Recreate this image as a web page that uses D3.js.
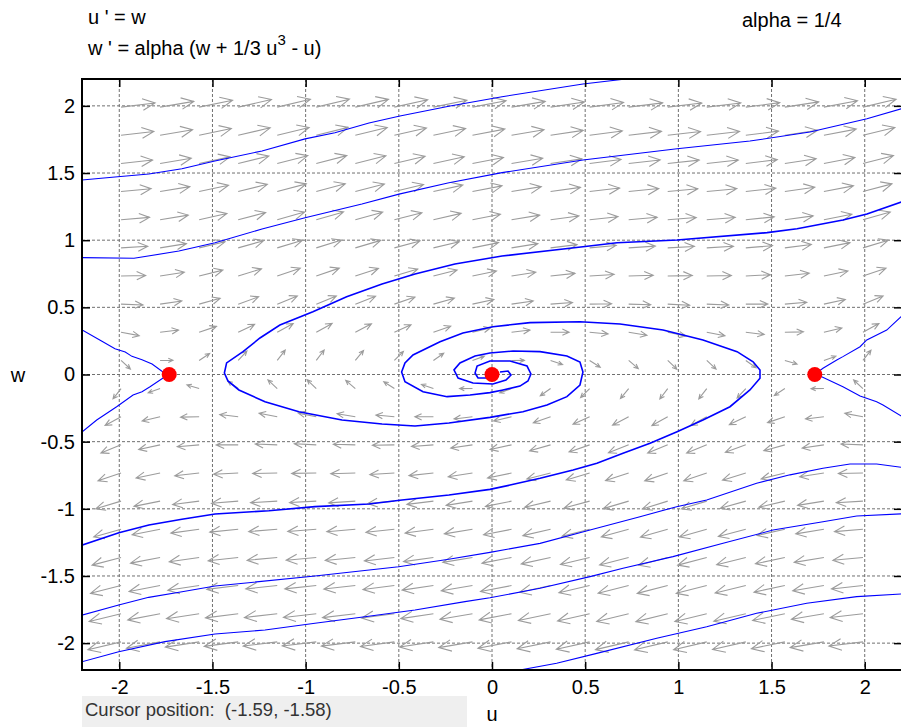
<!DOCTYPE html>
<html>
<head>
<meta charset="utf-8">
<script src="https://cdnjs.cloudflare.com/ajax/libs/d3/7.8.5/d3.min.js"></script>
<style>
body { margin: 0; background: #fff; }
svg { display: block; font-family: "Liberation Sans", Arial, sans-serif; }
</style>
</head>
<body>
<svg width="901" height="727"></svg>
<script>
// system shown in the title
var alpha = 0.25
var xTicks = [-2, -1.5, -1, -0.5, 0, 0.5, 1, 1.5, 2]
var yTicks = [-2, -1.5, -1, -0.5, 0, 0.5, 1, 1.5, 2]
var equilibria = [[-1.732, 0], [0, 0], [1.732, 0]]

// trajectories, [u, w]
var trajTop1 = [[-2.2,1.448],[-2.023,1.47],[-1.841,1.493],[-1.664,1.532],[-1.487,1.59],[-1.234,1.664],[-1.003,1.754],[-0.843,1.8],[-0.66,1.873],[-0.494,1.925],[-0.225,1.999],[0.054,2.068],[0.488,2.163],[0.73,2.202],[0.78,2.215]]
var trajTop2 = [[-2.2,0.87],[-1.921,0.865],[-1.68,0.919],[-1.486,0.981],[-1.234,1.083],[-1.003,1.167],[-0.698,1.269],[-0.499,1.343],[-0.231,1.428],[0.054,1.503],[0.488,1.597],[0.993,1.681],[1.384,1.738],[1.706,1.805],[2.012,1.904],[2.2,1.98]]
var spiral1 = [[0.043,0.019],[0.086,0.026],[0.102,-0.004],[0.075,-0.041],[0.005,-0.071],[-0.102,-0.063],[-0.182,-0.026],[-0.204,0.034],[-0.172,0.086],[-0.091,0.138],[-0.011,0.16],[0.113,0.175],[0.258,0.17],[0.402,0.138],[0.472,0.093],[0.488,0.019],[0.472,-0.078],[0.402,-0.165],[0.295,-0.227],[0.166,-0.277],[-0.011,-0.319],[-0.231,-0.361],[-0.413,-0.383],[-0.59,-0.368],[-0.805,-0.339],[-1.036,-0.277],[-1.218,-0.203],[-1.358,-0.115],[-1.417,-0.048],[-1.436,0.011],[-1.424,0.086],[-1.336,0.17],[-1.245,0.272],[-1.138,0.368],[-0.961,0.468],[-0.78,0.579],[-0.59,0.674],[-0.413,0.748],[-0.199,0.823],[0.054,0.882],[0.488,0.951],[0.671,0.981],[0.993,1.001],[1.476,1.056],[1.637,1.085],[1.883,1.15],[2.012,1.195],[2.21,1.29]]
var spiral2 = [[-0.027,-0.026],[-0.075,-0.026],[-0.091,0.011],[-0.08,0.063],[-0.011,0.101],[0.097,0.101],[0.188,0.063],[0.209,0.004],[0.193,-0.048],[0.15,-0.086],[0.059,-0.116],[-0.011,-0.135],[-0.118,-0.153],[-0.241,-0.165],[-0.37,-0.128],[-0.467,-0.054],[-0.485,0.019],[-0.467,0.086],[-0.424,0.145],[-0.279,0.244],[-0.156,0.309],[0.005,0.356],[0.204,0.386],[0.472,0.393],[0.687,0.376],[0.918,0.331],[1.132,0.257],[1.315,0.17],[1.401,0.095],[1.438,0.034],[1.438,-0.028],[1.384,-0.115],[1.277,-0.24],[1.132,-0.339],[0.993,-0.426],[0.848,-0.512],[0.703,-0.587],[0.563,-0.661],[0.435,-0.711],[0.258,-0.773],[0.097,-0.823],[-0.011,-0.855],[-0.231,-0.897],[-0.483,-0.934],[-0.66,-0.964],[-0.95,-0.984],[-1.197,-1.014],[-1.486,-1.039],[-1.664,-1.078],[-1.841,-1.12],[-2.002,-1.178],[-2.21,-1.275]]
var sepLeftUpper = [[-2.21,0.34],[-2.093,0.247],[-2.023,0.192],[-1.968,0.168],[-1.932,0.135],[-1.878,0.11],[-1.824,0.078],[-1.771,0.024],[-1.732,0]]
var sepLeftLower = [[-2.21,-0.44],[-2.121,-0.339],[-2.014,-0.24],[-1.926,-0.153],[-1.878,-0.128],[-1.835,-0.091],[-1.765,-0.026],[-1.732,0]]
var sepRightUpper = [[1.732,0],[1.776,0.046],[1.85,0.108],[1.883,0.133],[1.975,0.207],[2.011,0.257],[2.118,0.331],[2.21,0.45]]
var sepRightLower = [[1.732,0],[1.769,-0.016],[1.883,-0.091],[1.975,-0.16],[2.064,-0.203],[2.098,-0.227],[2.21,-0.32]]
var trajLow1 = [[-2.21,-1.795],[-2.003,-1.716],[-1.842,-1.659],[-1.663,-1.617],[-1.486,-1.575],[-1.306,-1.55],[-0.95,-1.5],[-0.501,-1.431],[-0.232,-1.376],[-0.011,-1.324],[0.258,-1.257],[0.526,-1.158],[0.794,-1.059],[0.991,-0.984],[1.152,-0.934],[1.42,-0.81],[1.599,-0.747],[1.776,-0.698],[1.921,-0.666],[2.064,-0.666],[2.21,-0.693]]
var trajLow2 = [[-2.21,-2.142],[-2.003,-2.064],[-1.755,-1.989],[-1.486,-1.932],[-1.218,-1.902],[-0.95,-1.852],[-0.682,-1.803],[-0.413,-1.753],[-0.145,-1.691],[-0.011,-1.662],[0.258,-1.592],[0.526,-1.505],[0.703,-1.443],[0.971,-1.356],[1.24,-1.257],[1.508,-1.158],[1.776,-1.096],[1.957,-1.053],[2.21,-1.037]]
var trajLow3 = [[0.12,-2.215],[0.15,-2.2],[0.347,-2.15],[0.562,-2.076],[0.884,-1.964],[1.152,-1.878],[1.42,-1.778],[1.689,-1.703],[1.957,-1.654],[2.21,-1.633]]

var thinTraj = [trajTop1, trajTop2, sepLeftUpper, sepLeftLower, sepRightUpper, sepRightLower, trajLow1, trajLow2, trajLow3]
var thickTraj = [spiral1, spiral2]

var svg = d3.select("svg")
var margin = {top: 79, left: 82}
var plotW = 820
var plotH = 591

var x = d3.scaleLinear().domain([-2.2, 2.2]).range([margin.left, margin.left + plotW])
var y = d3.scaleLinear().domain([-2.2, 2.2]).range([margin.top + plotH, margin.top])

svg.append("defs").append("clipPath").attr("id", "plot")
  .append("rect")
  .attr("x", margin.left).attr("y", margin.top)
  .attr("width", plotW).attr("height", plotH)

// dashed grid
var grid = svg.append("g").attr("stroke", "#707070").attr("stroke-dasharray", "3,2").attr("stroke-width", 1)
grid.selectAll(".gx").data(xTicks).enter().append("line")
  .attr("x1", d => x(d)).attr("x2", d => x(d))
  .attr("y1", margin.top).attr("y2", margin.top + plotH)
grid.selectAll(".gy").data(yTicks).enter().append("line")
  .attr("y1", d => y(d)).attr("y2", d => y(d))
  .attr("x1", margin.left).attr("x2", margin.left + plotW)

// direction field of the system, 20 x 20 arrows
var step = 4.4 / 21
var gridVals = d3.range(1, 21).map(i => -2.2 + i * step)
var field = []
gridVals.forEach(u => gridVals.forEach(w => {
  var du = w
  var dw = alpha * (w + u * u * u / 3 - u)
  var m = Math.hypot(du, dw)
  if (m < 1e-9) return
  var len = 0.1465 * Math.cbrt(m)
  field.push({u: u, w: w, u2: u + len * du / m, w2: w + len * dw / m})
}))

function arrowPath(d) {
  var x0 = x(d.u), y0 = y(d.w), x1 = x(d.u2), y1 = y(d.w2)
  var a = Math.atan2(y1 - y0, x1 - x0)
  var h = 0.4 * Math.hypot(x1 - x0, y1 - y0)
  var s = 0.43
  return "M" + x0 + "," + y0 + "L" + x1 + "," + y1 +
    "M" + (x1 - h * Math.cos(a - s)) + "," + (y1 - h * Math.sin(a - s)) +
    "L" + x1 + "," + y1 +
    "L" + (x1 - h * Math.cos(a + s)) + "," + (y1 - h * Math.sin(a + s))
}

svg.append("g").attr("clip-path", "url(#plot)")
  .selectAll("path").data(field).enter().append("path")
  .attr("d", arrowPath)
  .attr("fill", "none")
  .attr("stroke", "#9c9c9c")
  .attr("stroke-width", 1.1)

// trajectories
var line = d3.line().x(d => x(d[0])).y(d => y(d[1]))
var trajG = svg.append("g").attr("clip-path", "url(#plot)").attr("fill", "none").attr("stroke", "#0000ff")
trajG.selectAll(".thin").data(thinTraj).enter().append("path")
  .attr("d", line).attr("stroke-width", 1.1)
trajG.selectAll(".thick").data(thickTraj).enter().append("path")
  .attr("d", line).attr("stroke-width", 1.6)

// equilibrium points
svg.append("g").selectAll("circle").data(equilibria).enter().append("circle")
  .attr("cx", d => x(d[0])).attr("cy", d => y(d[1]))
  .attr("r", 7.5).attr("fill", "#ff0000")

// axes with inward ticks
var fmt = d => String(d)
var xAxisB = d3.axisBottom(x).tickValues(xTicks).tickFormat(fmt).tickSize(-8).tickSizeOuter(0).tickPadding(10)
var xAxisT = d3.axisTop(x).tickValues(xTicks).tickFormat("").tickSize(-8).tickSizeOuter(0)
var yAxisL = d3.axisLeft(y).tickValues(yTicks).tickFormat(fmt).tickSize(-8).tickSizeOuter(0).tickPadding(7)
var yAxisR = d3.axisRight(y).tickValues(yTicks).tickFormat("").tickSize(-8).tickSizeOuter(0)

function styleAxis(g) {
  g.attr("font-size", 20).attr("font-family", "Liberation Sans, Arial, sans-serif")
  g.select(".domain").remove()
  g.selectAll(".tick line").attr("stroke", "#000").attr("stroke-width", 1.5)
  g.selectAll(".tick text").attr("fill", "#000")
}

svg.append("g").attr("transform", "translate(0," + (margin.top + plotH) + ")").call(xAxisB).call(styleAxis)
svg.append("g").attr("transform", "translate(0," + margin.top + ")").call(xAxisT).call(styleAxis)
svg.append("g").attr("transform", "translate(" + margin.left + ",0)").call(yAxisL).call(styleAxis)
svg.append("g").attr("transform", "translate(" + (margin.left + plotW) + ",0)").call(yAxisR).call(styleAxis)

// frame
svg.append("rect")
  .attr("x", margin.left).attr("y", margin.top)
  .attr("width", plotW).attr("height", plotH)
  .attr("fill", "none").attr("stroke", "#000").attr("stroke-width", 2)

// axis labels
svg.append("text").attr("x", 492).attr("y", 721).attr("text-anchor", "middle")
  .attr("font-size", 20).text("u")
svg.append("text").attr("x", 18).attr("y", 382).attr("text-anchor", "middle")
  .attr("font-size", 20).text("w")

// equations and parameter
svg.append("text").attr("x", 88).attr("y", 24).attr("font-size", 20).text("u ' = w")
var eq2 = svg.append("text").attr("x", 88).attr("y", 55).attr("font-size", 20)
eq2.append("tspan").text("w ' = alpha (w + 1/3 u")
eq2.append("tspan").attr("font-size", 15).attr("dy", -10).text("3")
eq2.append("tspan").attr("dy", 10).text(" - u)")
svg.append("text").attr("x", 742).attr("y", 27).attr("font-size", 20).text("alpha = 1/4")

// cursor read-out strip
svg.append("rect").attr("x", 82).attr("y", 696).attr("width", 385).attr("height", 31).attr("fill", "#efefef")
svg.append("text").attr("x", 85).attr("y", 716).attr("font-size", 18.5).attr("fill", "#333")
  .attr("xml:space", "preserve").style("white-space", "pre")
  .text("Cursor position:  (-1.59, -1.58)")
</script>
</body>
</html>
